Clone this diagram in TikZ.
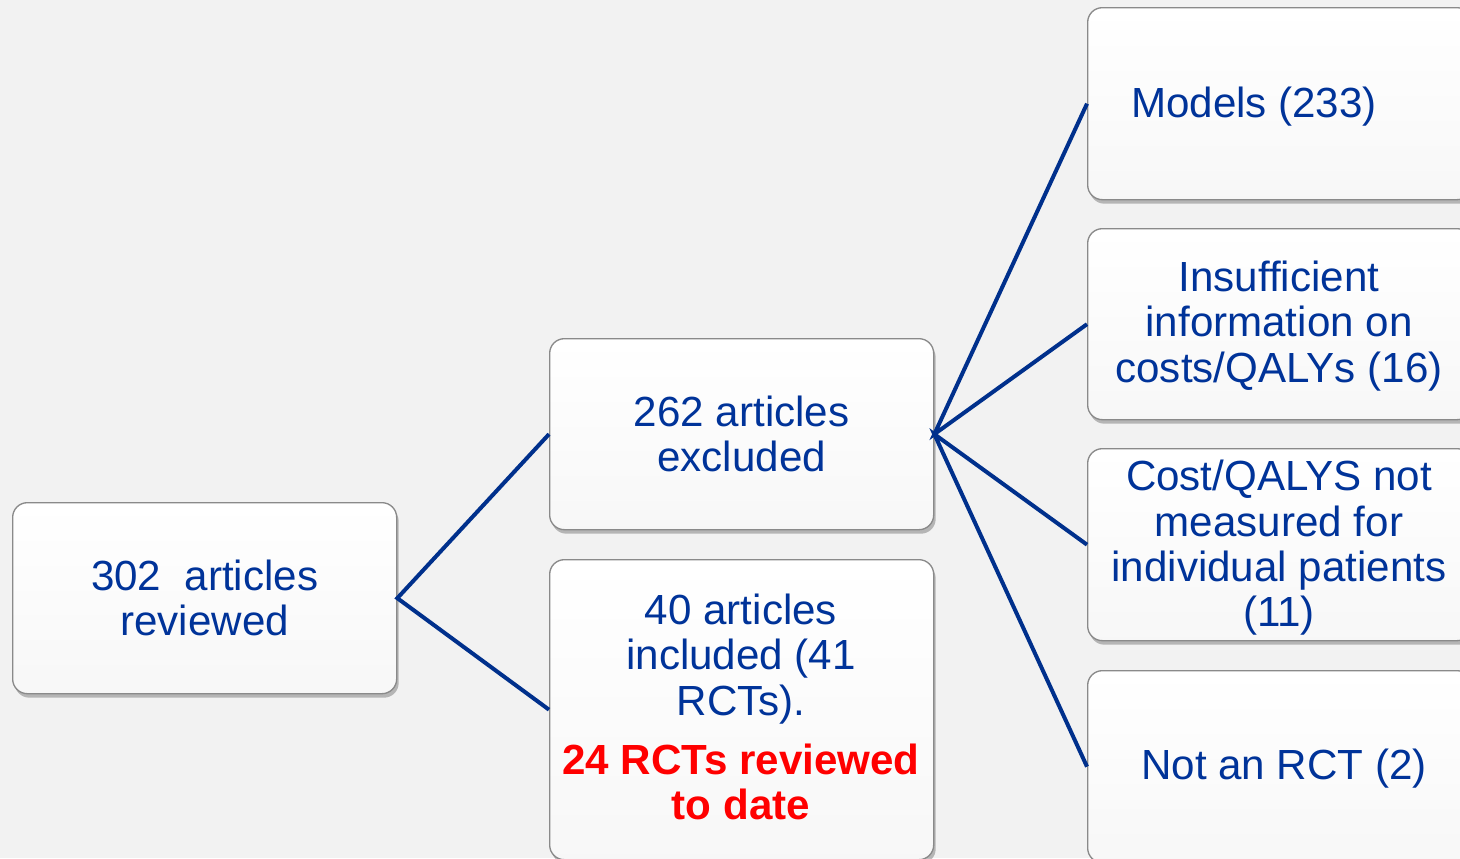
\documentclass[tikz,border=0pt]{standalone}
\usepackage{fontspec}
\setmainfont{Liberation Sans}
\usetikzlibrary{shadows}
\definecolor{bg}{HTML}{F2F2F2}
\definecolor{navy}{HTML}{003399}
\definecolor{linecol}{HTML}{00308C}
\definecolor{boxborder}{HTML}{8A8A8A}
\definecolor{hot}{HTML}{FF0000}
\tikzset{
  box/.style={draw=boxborder, line width=1pt, rounded corners=11pt,
    top color=white, bottom color=black!3,
    drop shadow={shadow xshift=1.5pt, shadow yshift=-3pt, opacity=0.25, fill=black},
    anchor=north west, inner sep=0pt, text=navy, align=center,
    font=\fontsize{31.6}{34}\selectfont},
  lbl/.style={text=navy, align=center, inner sep=0pt, font=\fontsize{31.6}{34}\selectfont},
  conn/.style={draw=linecol, line width=3pt}
}
\begin{document}
\begin{tikzpicture}[x=0.75pt,y=-0.75pt]
\useasboundingbox (0,0) rectangle (1460,858);
\fill[bg] (0,0) rectangle (1460,858);
\begin{scope}
\clip (0,0) rectangle (1460,858);
\node[box, minimum width=384*0.75pt, minimum height=191*0.75pt] (a) at (12,502) {302\ \ articles\\reviewed};
\node[box, minimum width=384*0.75pt, minimum height=191*0.75pt] (b) at (549,338) {262 articles\\excluded};
\node[box, minimum width=384*0.75pt, minimum height=300*0.75pt] (c) at (549,559) {};
\node[box, minimum width=384*0.75pt, minimum height=192*0.75pt] (d1) at (1087,7) {};
\node[box, minimum width=384*0.75pt, minimum height=191*0.75pt] (d2) at (1087,228) {};
\node[box, minimum width=384*0.75pt, minimum height=192*0.75pt] (d3) at (1087,448) {};
\node[box, minimum width=384*0.75pt, minimum height=192*0.75pt] (d4) at (1087,670) {};
\node[lbl] (ctext) at (741,659) {40 articles\\included (41\\RCTs).};
\node[lbl, text=hot, font=\fontsize{31.6}{34}\selectfont\bfseries] (cred) at (741,782) {24 RCTs reviewed\\to date};
\node[lbl] (t1) at (1254,107) {Models (233)};
\node[lbl] (t2) at (1279,326) {Insufficient\\information on\\costs/QALYs (16)};
\node[lbl] (t3) at (1279,548) {Cost/QALYS not\\measured for\\individual patients\\(11)};
\node[lbl] (t4) at (1284,769) {Not an RCT (2)};
\draw[conn] (b.west) -- (a.east) -- (c.west);
\draw[conn] (d1.west) -- (b.east) -- (d2.west);
\draw[conn] (d3.west) -- (b.east) -- (d4.west);
\end{scope}
\end{tikzpicture}
\end{document}
